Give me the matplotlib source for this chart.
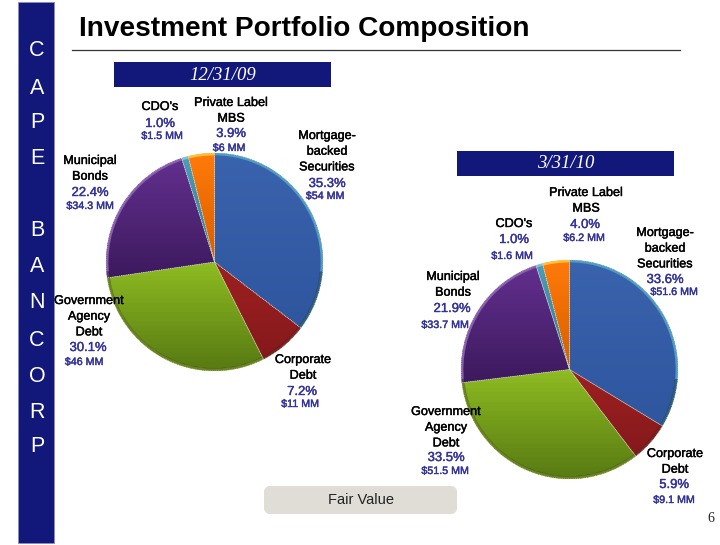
import numpy as np
import matplotlib
matplotlib.use('Agg')
import matplotlib.pyplot as plt
import matplotlib.patheffects as pe
from matplotlib.colors import LinearSegmentedColormap
from matplotlib.patches import FancyBboxPatch, Rectangle

W, H = 720, 545

# data
names = ['Mortgage-\nbacked\nSecurities', 'Corporate\nDebt', 'Government\nAgency\nDebt',
         'Municipal\nBonds', "CDO's", 'Private Label\nMBS']
pct_dec = [35.3, 7.2, 30.1, 22.4, 1.0, 3.9]
amt_dec = ['$54 MM', '$11 MM', '$46 MM', '$34.3 MM', '$1.5 MM', '$6 MM']
pct_mar = [33.6, 5.9, 33.5, 21.9, 1.0, 4.0]
amt_mar = ['$51.6 MM', '$9.1 MM', '$51.5 MM', '$33.7 MM', '$1.6 MM', '$6.2 MM']
sidebar = ['C', 'A', 'P', 'E', 'B', 'A', 'N', 'C', 'O', 'R', 'P']
sidebar_y = [50, 88, 122, 158, 231, 267, 303, 340, 376, 412, 447]

# top and bottom colour of each slice, then its rim
tops = ['#3a63ad', '#9e2020', '#8dbb22', '#622f8e', '#4b9cb8', '#ff7a0a']
bottoms = ['#2f569f', '#85191c', '#587a12', '#3d1a5e', '#2f7d96', '#d85f00']
rims = ['#4f9cc4', '#c23a3a', '#a9d23c', '#8a5fb0', '#7cc0d6', '#ffc030']

navy = '#12187a'
blue_txt = '#33339a'

# x, y of the first name line, the percent and the amount, in pixels
pos_dec = [((327, 136), (327, 184), (325, 196)), ((303, 360), (302, 392), (300, 404)),
           ((89, 301), (88, 348), (84, 362)), ((90, 161), (90, 193), (90, 206)),
           ((160, 107), (160, 124), (162, 136)), ((231, 103), (231, 134), (229, 148))]
pos_mar = [((665, 233), (665, 280), (674, 292)), ((675, 454), (674, 485), (674, 500)),
           ((446, 412), (446, 458), (445, 471)), ((453, 277), (452, 309), (445, 325)),
           ((514, 224), (514, 240), (512, 256)), ((586, 193), (585, 225), (584, 238))]

fig = plt.figure(figsize=(W / 100, H / 100), dpi=100)


def draw_pie(values, cx, cy, rx, ry):
    ax = fig.add_axes([(cx - rx) / W, 1 - (cy + ry) / H, 2 * rx / W, 2 * ry / H])
    wedges, _ = ax.pie(values, startangle=90, counterclock=False, radius=1)
    for w, c1, c2 in zip(wedges, tops, bottoms):
        w.set_facecolor('none')
        w.set_edgecolor('none')
        cmap = LinearSegmentedColormap.from_list('g', [c1, c2])
        ys = w.get_path().vertices.copy()
        ys = w.get_patch_transform().transform(ys)[:, 1]
        im = ax.imshow(np.linspace(0, 1, 24).reshape(-1, 1), cmap=cmap, aspect='auto',
                       extent=[-1, 1, ys.min(), ys.max()], origin='upper', zorder=1)
        im.set_clip_path(w)
    # lighter rim over the top of the pie only
    rim, _ = ax.pie(values, startangle=90, counterclock=False, radius=1,
                    colors=rims, wedgeprops=dict(width=0.022, linewidth=0, zorder=2))
    for r in rim:
        r.set_clip_path(Rectangle((-1, 0.45), 2, 0.55, transform=ax.transData))
    # shaded rim underneath
    shade, _ = ax.pie([1], radius=1, colors=['#00000060'],
                      wedgeprops=dict(width=0.025, linewidth=0, zorder=3))
    shade[0].set_theta1(185)
    shade[0].set_theta2(355)
    # slice borders
    ax.pie(values, startangle=90, counterclock=False, radius=1,
           colors=['none'] * len(values),
           wedgeprops=dict(edgecolor='#dcdcc0', linewidth=0.5, linestyle=':', zorder=4))
    ax.set_aspect('auto')
    ax.set_xlim(-1, 1)
    ax.set_ylim(-1, 1)
    ax.axis('off')


draw_pie(pct_dec, 214.5, 262, 108.5, 109)
draw_pie(pct_mar, 569.5, 369.5, 108.5, 109.5)

# overlay in pixel coordinates
ov = fig.add_axes([0, 0, 1, 1], facecolor='none')
ov.set_xlim(0, W)
ov.set_ylim(H, 0)
ov.axis('off')

ov.add_patch(Rectangle((17.5, 2), 36.5, 541, fc=navy, ec='#8a8cc0', lw=0.6))
for letter, y in zip(sidebar, sidebar_y):
    ov.text(37, y, letter, color='white', fontsize=15.5, family='Liberation Sans',
            ha='center', va='center')

ov.text(79, 29, 'Investment Portfolio Composition', fontsize=20.15, fontweight='bold',
        family='Liberation Sans', color='black', ha='left', va='center')
ov.plot([72, 680], [49.5, 49.5], color='#333333', lw=0.9)

for x, y, label in [(114, 62, '12/31/09'), (457, 151, '3/31/10')]:
    ov.add_patch(Rectangle((x, y), 217, 25, fc=navy, ec='none'))
    ov.text(x + 108.5, y + 13, label, color='white', fontsize=13.5, style='italic',
            family='Liberation Serif', ha='center', va='center')


def draw_labels(values, amounts, positions):
    black_edge = [pe.withStroke(linewidth=0.3, foreground='black')]
    blue_edge = [pe.withStroke(linewidth=0.3, foreground=blue_txt)]
    for name, val, amt, (p_name, p_pct, p_amt) in zip(names, values, amounts, positions):
        for i, line in enumerate(name.split('\n')):
            ov.text(p_name[0], p_name[1] + i * 15.7, line, fontsize=9.1, color='black',
                    family='Liberation Sans', ha='center', va='center',
                    path_effects=black_edge)
        ov.text(p_pct[0], p_pct[1], '%.1f%%' % val, fontsize=9.4, color=blue_txt,
                family='Liberation Sans', ha='center', va='center', path_effects=blue_edge)
        ov.text(p_amt[0], p_amt[1], amt, fontsize=7.7, color=blue_txt,
                family='Liberation Sans', ha='center', va='center', path_effects=blue_edge)


draw_labels(pct_dec, amt_dec, pos_dec)
draw_labels(pct_mar, amt_mar, pos_mar)

ov.add_patch(FancyBboxPatch((267, 489), 187, 22, boxstyle='round,pad=0,rounding_size=3',
                            fc='#e0ddd7', ec='#e0ddd7', lw=6 * 0.72, joinstyle='round'))
ov.text(361, 500, 'Fair Value', fontsize=10.5, color='#222222', family='Liberation Sans',
        ha='center', va='center')
ov.text(711, 518, '6', fontsize=10, color='#222222', family='Liberation Serif',
        ha='center', va='center')

fig.savefig('out.png', dpi=100)
